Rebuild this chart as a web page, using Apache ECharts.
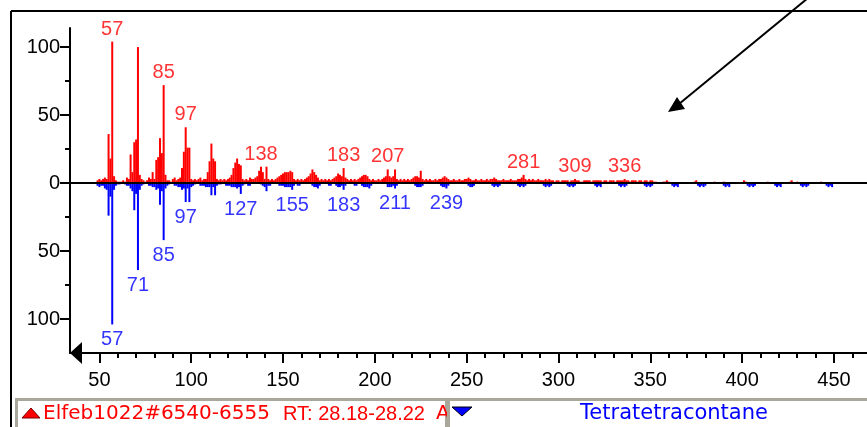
<!DOCTYPE html>
<html><head><meta charset="utf-8">
<script src="https://cdn.jsdelivr.net/npm/echarts@6/dist/echarts.min.js"></script>
<style>html,body{margin:0;padding:0;background:#fff}#c{width:867px;height:427px}</style>
</head><body><div id="c"></div>
<script>
// ---- data (m/z, relative intensity) ----
const xMajorTicks = [50,100,150,200,250,300,350,400,450];
const xMinorTicks = [40,60,70,80,90,110,120,130,140,160,170,180,190,210,220,230,240,260,270,280,290,310,320,330,340,360,370,380,390,410,420,430,440,460];
const yMajorTicks = [-100,-50,0,50,100];
const yMinorTicks = [-75,-25,25,75];

// Unknown spectrum (red, upward), m/z 49..353
const redStart = 49;
const redInt = [
  2,
  3,2,3,4,3,36,18,104,5,2,
  1,1,1,2,1,4,3,21,8,30,
  32,100,6,3,2,1,2,4,3,8,
  3,17,19,33,22,72,6,2,2,1,
  3,4,2,3,4,11,23,41,26,26,
  3,2,3,2,3,4,2,3,3,8,
  16,29,18,16,3,2,3,2,3,2,
  3,4,6,11,15,18,14,13,3,2,
  3,2,4,3,3,4,5,9,12,8,
  3,12,3,2,3,2,3,4,5,6,
  7,8,8,8,9,8,3,2,3,2,
  3,2,3,4,5,7,10,8,6,4,
  2,3,2,3,2,3,2,3,4,5,
  7,6,5,11,4,3,2,3,2,3,
  2,3,4,5,6,6,5,3,2,3,
  2,2,3,2,3,4,5,10,5,4,
  5,10,3,2,3,2,3,2,3,2,
  3,4,5,5,4,9,3,2,3,2,
  3,2,2,3,2,3,3,4,5,4,
  3,2,2,3,2,2,3,2,2,3,
  3,4,3,2,2,3,2,2,3,2,
  2,3,2,3,3,4,3,2,2,2,
  3,2,2,2,3,2,2,2,3,3,
  4,6,3,2,3,2,3,2,2,3,
  2,2,2,3,2,3,2,2,1,2,
  2,1,2,2,2,2,1,2,2,3,
  2,2,1,1,2,2,2,2,1,2,
  2,2,2,2,1,2,2,1,2,2,
  2,1,2,2,2,2,3,2,2,1,
  2,2,2,1,2,2,1,2,2,1,
  2,2,1,1
];
const redExtraMz  = [357,358,359,360,374,375,385,390,401,402,414,426,427,430,443];
const redExtraInt = [1,1,2,1,1,2,1,1,2,1,1,1,2,1,1];

// Library spectrum (blue, downward): Tetratetracontane
const blueStart = 49;
const blueBand = [
  2,3,2,2,4,5,24,10,104,5,2,
  1,1,0,0,1,2,2,4,6,20,
  8,64,5,2,1,0,0,2,2,3,
  3,5,4,16,6,42,4,2,1,0,
  0,2,2,3,3,5,4,14,4,14,
  3,2,1,0,0,2,2,2,3,3,
  3,9,3,9,2,1,1,0,0,2,
  2,2,3,3,3,4,3,8,2,1,
  0,2,2,0,0,0,0,0,1,2,
  3,6,2,2,0,0,0,0,2,2,
  2,3,3,3,3,5,2,0
];
const blueClusterMz = [158,159, 166,167,168,169,170, 175,176, 179,180,181,182,183,184, 189,190, 193,194,195,196,197,198, 207,208,209,210,211,212, 222,223,224,225,226, 236,237,238,239,240, 251,252,253,254, 264,265,266,267,268, 278,279,280,281,282, 292,293,294,295,296, 305,306,307,308,309, 320,321,322,323, 333,334,335,336,337, 347,348,349,350,351, 362,363,364,365, 376,377,378,379,380, 390,391,392,393, 403,404,405,406,407, 418,419,420,421, 432,433,434,435,436, 446,447,448,449];
const blueClusterInt = [2,2, 2,3,3,4,2, 2,2, 2,3,3,2,5,2, 2,2, 2,3,3,3,4,2, 3,3,3,2,4,2, 2,3,3,3,2, 2,3,3,4,2, 2,3,3,2, 2,3,2,3,2, 2,3,2,3,2, 2,3,2,3,2, 2,3,2,3,2, 2,3,2,3, 2,3,2,3,2, 2,3,2,3,2, 2,3,2,3, 2,3,2,3,2, 2,3,2,3, 2,3,2,3,2, 2,3,2,3, 2,3,2,3,2, 2,3,2,3];

const redLabelMz  = [57,85,97,138,183,207,281,309,336];
const blueLabelMz = [57,71,85,97,127,155,183,211,239];

const legendRedName = 'Elfeb1022#6540-6555';
const legendRedRT = 'RT: 28.18-28.22';
const legendRedTail = 'A';
const legendBlueName = 'Tetratetracontane';

// ---- build series data ----
const redMap = new Map();
redInt.forEach((v, i) => { if (v > 0) redMap.set(redStart + i, v); });
redExtraMz.forEach((m, i) => redMap.set(m, redExtraInt[i]));
const blueMap = new Map();
blueBand.forEach((v, i) => { if (v > 0) blueMap.set(blueStart + i, v); });
blueClusterMz.forEach((m, i) => blueMap.set(m, blueClusterInt[i]));

const redData = Array.from(redMap.entries()).map(([m, v]) => [m, v]);
const blueData = Array.from(blueMap.entries()).map(([m, v]) => [m, -v]);
const redLabelData = redLabelMz.map(m => [m, redMap.get(m) || 0]);
const blueLabelData = blueLabelMz.map(m => [m, -(blueMap.get(m) || 0)]);

const NUM_FONT = 'Liberation Sans, Arial, sans-serif';
const TXT_FONT = 'DejaVu Sans, sans-serif';

const chart = echarts.init(document.getElementById('c'), null, {renderer: 'canvas'});
chart.setOption({
  animation: false,
  backgroundColor: '#fff',
  grid: {left: 70, right: 0, top: 28, bottom: 74, containLabel: false},
  xAxis: [{
    type: 'value', min: 34, max: 468, position: 'bottom',
    axisLine: {show: true, onZero: false, lineStyle: {color: '#000', width: 2}},
    axisTick: {show: true, customValues: xMajorTicks, length: 10, lineStyle: {color: '#000', width: 2}},
    axisLabel: {show: true, customValues: xMajorTicks, margin: 17, fontSize: 20, color: '#000', fontFamily: NUM_FONT},
    splitLine: {show: false}
  }, {
    type: 'value', min: 34, max: 468, position: 'bottom',
    axisLine: {show: false, onZero: false},
    axisTick: {show: true, customValues: xMinorTicks, length: 5, lineStyle: {color: '#000', width: 2}},
    axisLabel: {show: false},
    splitLine: {show: false}
  }],
  yAxis: [{
    type: 'value', min: -125, max: 114, position: 'left',
    axisLine: {show: true, onZero: false, lineStyle: {color: '#000', width: 2}},
    axisTick: {show: true, customValues: yMajorTicks, length: 10, lineStyle: {color: '#000', width: 2}},
    axisLabel: {show: true, customValues: yMajorTicks, margin: 10, fontSize: 20, color: '#000', fontFamily: NUM_FONT,
      formatter: v => String(Math.abs(v))},
    splitLine: {show: false}
  }, {
    type: 'value', min: -125, max: 114, position: 'left',
    axisLine: {show: false, onZero: false},
    axisTick: {show: true, customValues: yMinorTicks, length: 5, lineStyle: {color: '#000', width: 2}},
    axisLabel: {show: false},
    splitLine: {show: false}
  }],
  series: [{
    name: 'unknown', type: 'bar', xAxisIndex: 0, yAxisIndex: 0,
    data: redData, barWidth: 2, barGap: '-100%',
    itemStyle: {color: '#ff0000'}, silent: true,
    markLine: {silent: true, symbol: 'none', label: {show: false},
      lineStyle: {color: '#000', width: 2, type: 'solid'}, data: [{yAxis: 0}]}
  }, {
    name: 'library', type: 'bar', xAxisIndex: 0, yAxisIndex: 0,
    data: blueData, barWidth: 2, barGap: '-100%',
    itemStyle: {color: '#0000ff'}, silent: true
  }, {
    type: 'scatter', xAxisIndex: 0, yAxisIndex: 0, data: redLabelData,
    symbolSize: 1, itemStyle: {color: 'rgba(0,0,0,0)'}, silent: true, z: 5,
    label: {show: true, position: 'top', distance: 2, color: '#ff0000', fontSize: 20, fontFamily: NUM_FONT,
      formatter: p => String(p.value[0])}
  }, {
    type: 'scatter', xAxisIndex: 0, yAxisIndex: 0, data: blueLabelData,
    symbolSize: 1, itemStyle: {color: 'rgba(0,0,0,0)'}, silent: true, z: 5,
    label: {show: true, position: 'bottom', distance: 5, color: '#0000ff', fontSize: 20, fontFamily: NUM_FONT,
      formatter: p => String(p.value[0])}
  }],
  graphic: [
    {type: 'line', z: 100, shape: {x1: 11, y1: 11, x2: 870, y2: 11}, style: {stroke: '#000', lineWidth: 2}},
    {type: 'line', z: 100, shape: {x1: 11, y1: 11, x2: 11, y2: 430}, style: {stroke: '#000', lineWidth: 2}},
    {type: 'polygon', z: 100, shape: {points: [[70,353],[82,342],[82,364]]}, style: {fill: '#000'}},
    {type: 'line', z: 100, shape: {x1: 808, y1: -2, x2: 679, y2: 104}, style: {stroke: '#000', lineWidth: 2}},
    {type: 'polygon', z: 100, shape: {points: [[668,112],[677,97],[685,109]]}, style: {fill: '#000'}},
    {type: 'rect', z: 100, shape: {x: 16.5, y: 399.5, width: 430, height: 40}, style: {fill: '#fff', stroke: '#aaa79b', lineWidth: 3}},
    {type: 'polygon', z: 101, shape: {points: [[31,408],[22,418],[40,418]]}, style: {fill: '#ff0000', stroke: '#7a0000', lineWidth: 1}},
    {type: 'text', z: 101, x: 43, y: 414, style: {text: legendRedName, fill: '#ff0000', font: '20px ' + TXT_FONT, verticalAlign: 'middle', align: 'left'}},
    {type: 'text', z: 101, x: 283, y: 414, style: {text: legendRedRT, fill: '#ff0000', font: '20px ' + NUM_FONT, verticalAlign: 'middle', align: 'left'}},
    {type: 'text', z: 101, x: 436, y: 414, style: {text: legendRedTail, fill: '#ff0000', font: '20px ' + TXT_FONT, verticalAlign: 'middle', align: 'left'}},
    {type: 'rect', z: 102, shape: {x: 448.5, y: 399.5, width: 430, height: 40}, style: {fill: '#fff', stroke: '#aaa79b', lineWidth: 3}},
    {type: 'polygon', z: 103, shape: {points: [[452,407],[472,407],[462,416]]}, style: {fill: '#0000ff', stroke: '#000', lineWidth: 1}},
    {type: 'text', z: 103, x: 674, y: 414, style: {text: legendBlueName, fill: '#0000ff', font: '21px ' + TXT_FONT, verticalAlign: 'middle', align: 'center'}}
  ]
});
</script>
</body></html>
